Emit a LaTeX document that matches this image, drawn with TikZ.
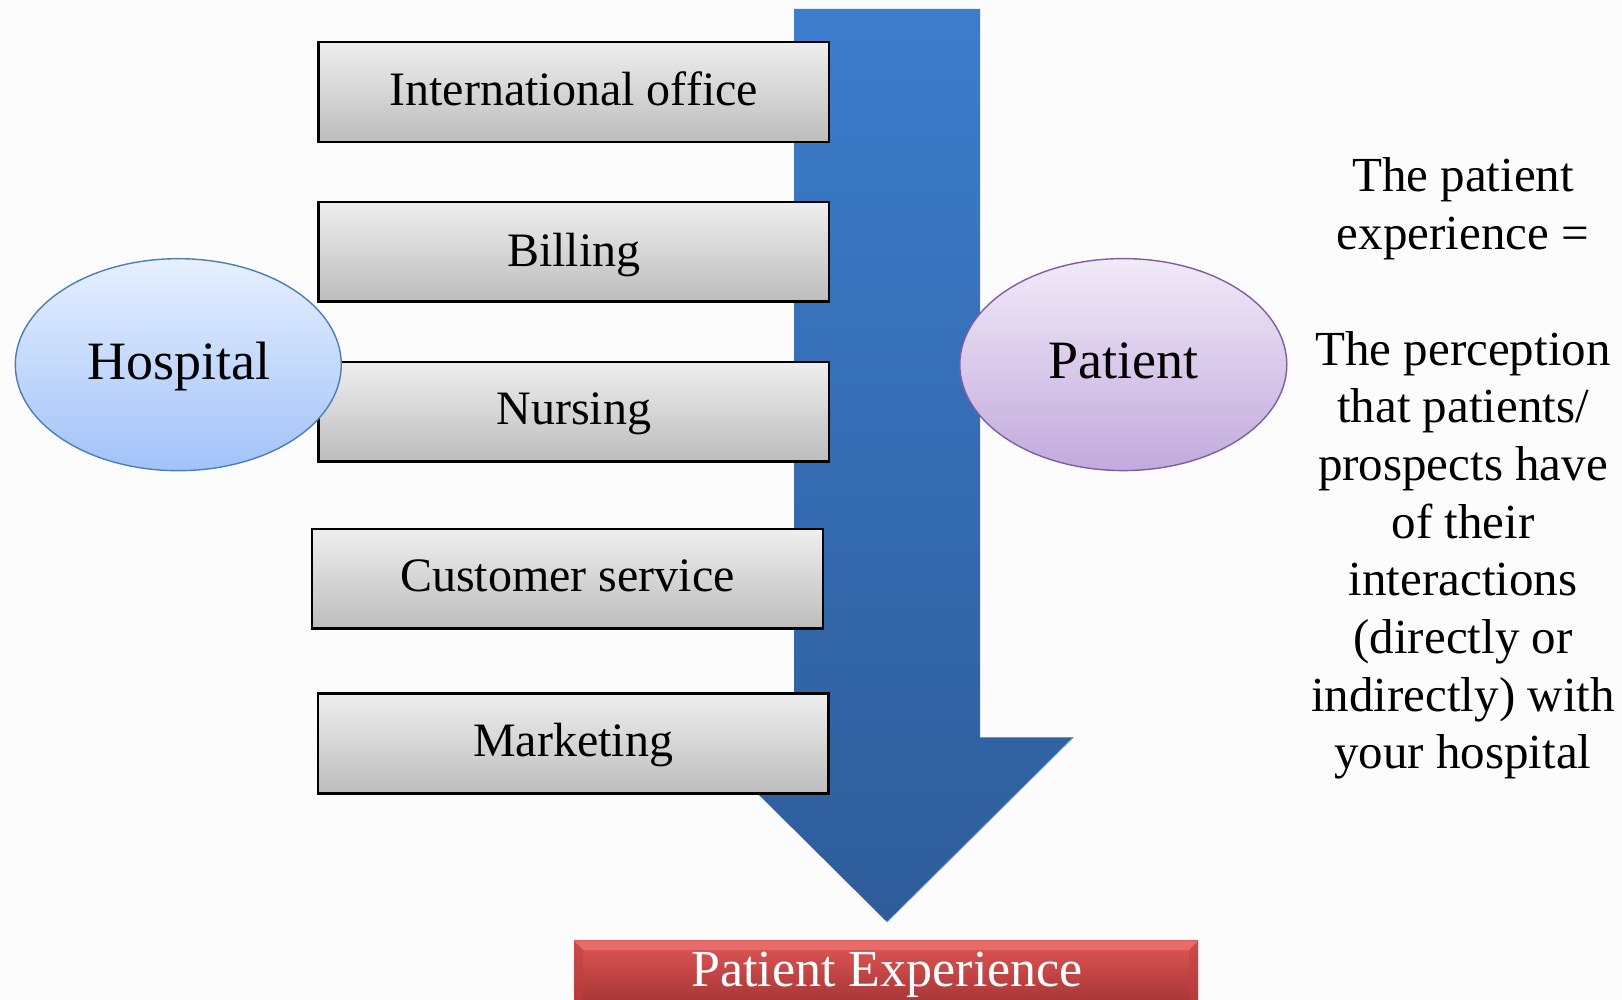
\documentclass[tikz,border=0pt]{standalone}
\usepackage{fontspec}
\setmainfont{Liberation Serif}
\usetikzlibrary{shapes.geometric}

\definecolor{arrowtop}{HTML}{3C7DCC}
\definecolor{arrowbot}{HTML}{2E5C99}
\definecolor{boxtop}{HTML}{EEEEEE}
\definecolor{boxbot}{HTML}{BDBDBD}
\definecolor{hosptop}{HTML}{E6F0FF}
\definecolor{hospbot}{HTML}{A2C2F8}
\definecolor{hospline}{HTML}{4A7EBB}
\definecolor{pattop}{HTML}{F1EAF8}
\definecolor{patbot}{HTML}{C2AADD}
\definecolor{patline}{HTML}{7E5DA6}
\definecolor{redtop}{HTML}{E05656}
\definecolor{redbot}{HTML}{A53434}
\definecolor{redhi}{HTML}{EE7C7C}
\definecolor{redside}{HTML}{C23E3E}
\definecolor{pagebg}{HTML}{FCFCFC}

\tikzset{
  deptbox/.style={draw=black, line width=2.4pt, top color=boxtop, bottom color=boxbot},
  depttext/.style={anchor=base, inner sep=0pt, font=\fontsize{48}{56}\selectfont},
  party/.style={ellipse, inner sep=0pt, line width=1.4pt},
  partytext/.style={anchor=base, inner sep=0pt, font=\fontsize{54}{62}\selectfont},
}

\begin{document}
\begin{tikzpicture}[x=1pt,y=1pt]
  % page
  \fill[pagebg] (0,0) rectangle (1622,1000);
  \useasboundingbox (0,0) rectangle (1622,1000);

  % big downward arrow
  \shade[top color=arrowtop, bottom color=arrowbot]
    (794,991) -- (980,991) -- (980,262.5) -- (1073,262.5) -- (887,78)
    -- (701,262.5) -- (794,262.5) -- cycle;
  \draw[arrowtop!80!white, line width=0.8pt]
    (980,262.5) -- (1073,262.5) -- (887,78);

  % departments
  \path[deptbox] (318.5,858) rectangle (829,958)   coordinate (b1);
  \path[deptbox] (318.5,698.5) rectangle (829,798) coordinate (b2);
  \path[deptbox] (318.5,538.5) rectangle (829,638) coordinate (b3);
  \path[deptbox] (312,371.5) rectangle (823,471)   coordinate (b4);
  \path[deptbox] (318,206.5) rectangle (828.5,306.5) coordinate (b5);
  \node[depttext] (intl) at (573.75,894) {International office};
  \node[depttext] (bill) at (573.75,733.3) {Billing};
  \node[depttext] (nurs) at (573.75,575) {Nursing};
  \node[depttext] (cust) at (567.5,408.3) {Customer service};
  \node[depttext] (mark) at (573.25,243.3) {Marketing};

  % hospital and patient
  \node[party, draw=hospline, top color=hosptop, bottom color=hospbot,
        minimum width=326pt, minimum height=212pt] (hospital) at (178.3,635.3) {};
  \node[partytext] (hosptext) at (179,620) {Hospital};
  \node[party, draw=patline, top color=pattop, bottom color=patbot,
        minimum width=327pt, minimum height=212pt] (patient) at (1123.3,635.4) {};
  \node[partytext] (pattext) at (1123.5,621) {Patient};

  % definition text (base anchor sits on the last line)
  \node[anchor=base, inner sep=0pt, align=center,
        font=\fontsize{49}{57.7}\selectfont] (definition) at (1463,231)
    {The patient\\experience =\\[57.7pt]The perception\\that patients/\\prospects have\\of their\\interactions\\(directly or\\indirectly) with\\your hospital};

  % result bar
  \shade[top color=redtop, bottom color=redbot] (574,-5) rectangle (1198,59);
  \fill[redhi, opacity=0.6] (574,59) -- (1198,59) -- (1189,50) -- (583,50) -- cycle;
  \fill[redside, opacity=0.5] (574,59) -- (583,50) -- (583,-5) -- (574,-5) -- cycle;
  \fill[redside, opacity=0.5] (1198,59) -- (1189,50) -- (1189,-5) -- (1198,-5) -- cycle;
  \node[anchor=base, inner sep=0pt, text=white, font=\fontsize{52}{60}\selectfont]
    (result) at (887,13.3) {Patient Experience};
\end{tikzpicture}
\end{document}
